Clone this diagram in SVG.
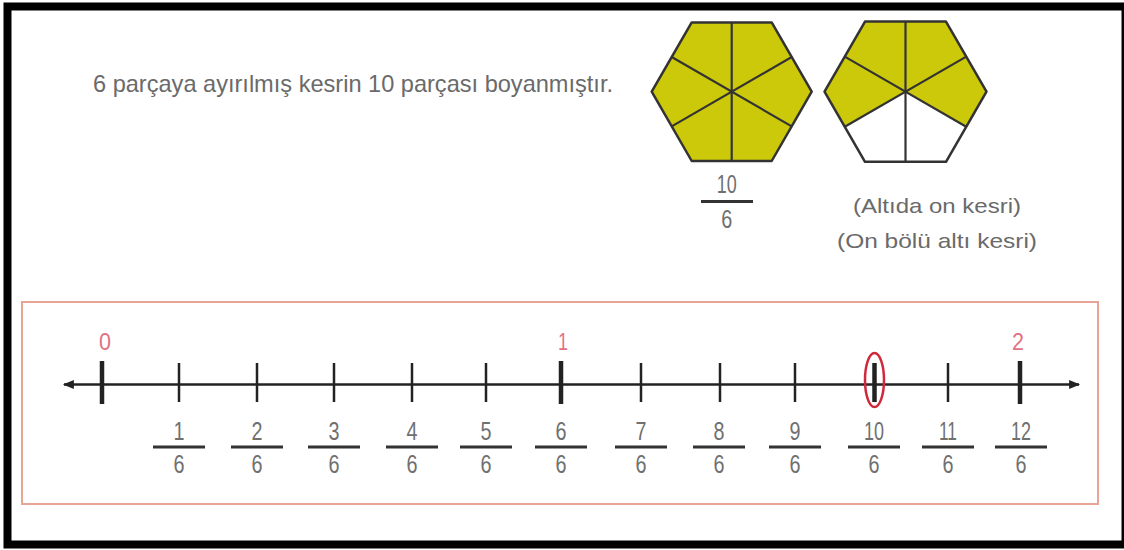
<svg xmlns="http://www.w3.org/2000/svg" width="1124" height="550" viewBox="0 0 1124 550">
<style>
.t{font-family:"Liberation Sans","DejaVu Sans",sans-serif;fill:#6a6a6a}
.n{font-family:"Liberation Sans","DejaVu Sans",sans-serif;font-size:25px;fill:#707070;text-anchor:middle}
.p{font-family:"Liberation Sans","DejaVu Sans",sans-serif;font-size:24px;fill:#e07283;text-anchor:middle}
.bar{stroke:#333;stroke-width:3}
.mi{stroke:#222;stroke-width:2.5}
.ma{stroke:#222;stroke-width:4.5}
.hex{stroke:#333;stroke-width:2.5;stroke-linejoin:round}
.div{stroke:#333;stroke-width:2.2}
</style>
<defs>
<marker id="ah" viewBox="0 0 10 10" refX="9" refY="5" markerWidth="14" markerHeight="11" markerUnits="userSpaceOnUse" orient="auto-start-reverse">
<path d="M0,1 L10,5 L0,9 Z" fill="#222"/>
</marker>
</defs>
<rect x="0" y="0" width="1124" height="550" fill="#fff"/>
<rect id="frame" x="7.5" y="6.5" width="1118" height="538" fill="none" stroke="#000" stroke-width="8"/>

<text id="sentence" class="t" x="93" y="92" font-size="24" textLength="520" lengthAdjust="spacingAndGlyphs">6 parçaya ayırılmış kesrin 10 parçası boyanmıştır.</text>

<g id="hexagon1">
<polygon class="hex" fill="#ccc80a" points="651.7,91.7 691.7,22.4 771.7,22.4 811.7,91.7 771.7,161 691.7,161"/>
<line class="div" x1="731.7" y1="22.4" x2="731.7" y2="161"/>
<line class="div" x1="671.7" y1="57.05" x2="791.7" y2="126.35"/>
<line class="div" x1="791.7" y1="57.05" x2="671.7" y2="126.35"/>
</g>

<g id="hexagon2">
<polygon fill="#ccc80a" points="824.5,91.7 865,21.55 946,21.55 986.5,91.7 946,161.85 865,161.85"/>
<polygon fill="#fff" points="905.5,91.7 966.25,126.8 946,161.85 865,161.85 844.75,126.8"/>
<line class="div" x1="905.5" y1="21.55" x2="905.5" y2="161.85"/>
<line class="div" x1="844.75" y1="56.6" x2="966.25" y2="126.8"/>
<line class="div" x1="966.25" y1="56.6" x2="844.75" y2="126.8"/>
<polygon class="hex" fill="none" points="824.5,91.7 865,21.55 946,21.55 986.5,91.7 946,161.85 865,161.85"/>
</g>

<g id="fraction-top">
<text class="n" x="726.7" y="193" textLength="20" lengthAdjust="spacingAndGlyphs">10</text>
<line class="bar" x1="701" y1="201.5" x2="753" y2="201.5"/>
<text class="n" x="726.7" y="228" textLength="11" lengthAdjust="spacingAndGlyphs">6</text>
</g>

<g id="reading">
<text class="t" x="853" y="213" font-size="21" textLength="168" lengthAdjust="spacingAndGlyphs">(Altıda on kesri)</text>
<text class="t" x="837" y="248" font-size="21" textLength="200" lengthAdjust="spacingAndGlyphs">(On bölü altı kesri)</text>
</g>

<rect id="numberline-box" x="22" y="302" width="1076" height="202" fill="none" stroke="#e8a595" stroke-width="2"/>

<g id="connectors">
<line x1="64" y1="384.5" x2="1079" y2="384.5" stroke="#222" stroke-width="2.5" marker-start="url(#ah)" marker-end="url(#ah)"/>
</g>

<g id="ticks">
<line class="ma" x1="102" y1="361" x2="102" y2="404"/>
<line class="mi" x1="179" y1="363" x2="179" y2="402"/>
<line class="mi" x1="257" y1="363" x2="257" y2="402"/>
<line class="mi" x1="334" y1="363" x2="334" y2="402"/>
<line class="mi" x1="412" y1="363" x2="412" y2="402"/>
<line class="mi" x1="486" y1="363" x2="486" y2="402"/>
<line class="ma" x1="561" y1="361" x2="561" y2="404"/>
<line class="mi" x1="641" y1="363" x2="641" y2="402"/>
<line class="mi" x1="720" y1="363" x2="720" y2="402"/>
<line class="mi" x1="795" y1="363" x2="795" y2="402"/>
<line class="ma" x1="874.5" y1="363" x2="874.5" y2="402" stroke-width="3.5"/>
<line class="mi" x1="948" y1="363" x2="948" y2="402"/>
<line class="ma" x1="1020" y1="361" x2="1020" y2="404"/>
</g>

<g id="whole-labels">
<text class="p" x="105" y="350" textLength="12" lengthAdjust="spacingAndGlyphs">0</text>
<text class="p" x="563" y="350" textLength="10" lengthAdjust="spacingAndGlyphs">1</text>
<text class="p" x="1018" y="350" textLength="12" lengthAdjust="spacingAndGlyphs">2</text>
</g>

<ellipse id="highlight" cx="874.5" cy="380" rx="9.5" ry="27" fill="none" stroke="#d0283c" stroke-width="2.5"/>

<g id="fractions">
<g id="f1"><text class="n" x="179" y="440" textLength="11" lengthAdjust="spacingAndGlyphs">1</text><line class="bar" x1="153" y1="447" x2="205" y2="447"/><text class="n" x="179" y="473" textLength="11" lengthAdjust="spacingAndGlyphs">6</text></g>
<g id="f2"><text class="n" x="257" y="440" textLength="11" lengthAdjust="spacingAndGlyphs">2</text><line class="bar" x1="231" y1="447" x2="283" y2="447"/><text class="n" x="257" y="473" textLength="11" lengthAdjust="spacingAndGlyphs">6</text></g>
<g id="f3"><text class="n" x="334" y="440" textLength="11" lengthAdjust="spacingAndGlyphs">3</text><line class="bar" x1="308" y1="447" x2="360" y2="447"/><text class="n" x="334" y="473" textLength="11" lengthAdjust="spacingAndGlyphs">6</text></g>
<g id="f4"><text class="n" x="412" y="440" textLength="11" lengthAdjust="spacingAndGlyphs">4</text><line class="bar" x1="386" y1="447" x2="438" y2="447"/><text class="n" x="412" y="473" textLength="11" lengthAdjust="spacingAndGlyphs">6</text></g>
<g id="f5"><text class="n" x="486" y="440" textLength="11" lengthAdjust="spacingAndGlyphs">5</text><line class="bar" x1="460" y1="447" x2="512" y2="447"/><text class="n" x="486" y="473" textLength="11" lengthAdjust="spacingAndGlyphs">6</text></g>
<g id="f6"><text class="n" x="561" y="440" textLength="11" lengthAdjust="spacingAndGlyphs">6</text><line class="bar" x1="535" y1="447" x2="587" y2="447"/><text class="n" x="561" y="473" textLength="11" lengthAdjust="spacingAndGlyphs">6</text></g>
<g id="f7"><text class="n" x="641" y="440" textLength="11" lengthAdjust="spacingAndGlyphs">7</text><line class="bar" x1="615" y1="447" x2="667" y2="447"/><text class="n" x="641" y="473" textLength="11" lengthAdjust="spacingAndGlyphs">6</text></g>
<g id="f8"><text class="n" x="719" y="440" textLength="11" lengthAdjust="spacingAndGlyphs">8</text><line class="bar" x1="693" y1="447" x2="745" y2="447"/><text class="n" x="719" y="473" textLength="11" lengthAdjust="spacingAndGlyphs">6</text></g>
<g id="f9"><text class="n" x="795" y="440" textLength="11" lengthAdjust="spacingAndGlyphs">9</text><line class="bar" x1="769" y1="447" x2="821" y2="447"/><text class="n" x="795" y="473" textLength="11" lengthAdjust="spacingAndGlyphs">6</text></g>
<g id="f10"><text class="n" x="874" y="440" textLength="20" lengthAdjust="spacingAndGlyphs">10</text><line class="bar" x1="848" y1="447" x2="900" y2="447"/><text class="n" x="874" y="473" textLength="11" lengthAdjust="spacingAndGlyphs">6</text></g>
<g id="f11"><text class="n" x="948" y="440" textLength="18" lengthAdjust="spacingAndGlyphs">11</text><line class="bar" x1="922" y1="447" x2="974" y2="447"/><text class="n" x="948" y="473" textLength="11" lengthAdjust="spacingAndGlyphs">6</text></g>
<g id="f12"><text class="n" x="1021" y="440" textLength="20" lengthAdjust="spacingAndGlyphs">12</text><line class="bar" x1="995" y1="447" x2="1047" y2="447"/><text class="n" x="1021" y="473" textLength="11" lengthAdjust="spacingAndGlyphs">6</text></g>
</g>
</svg>
